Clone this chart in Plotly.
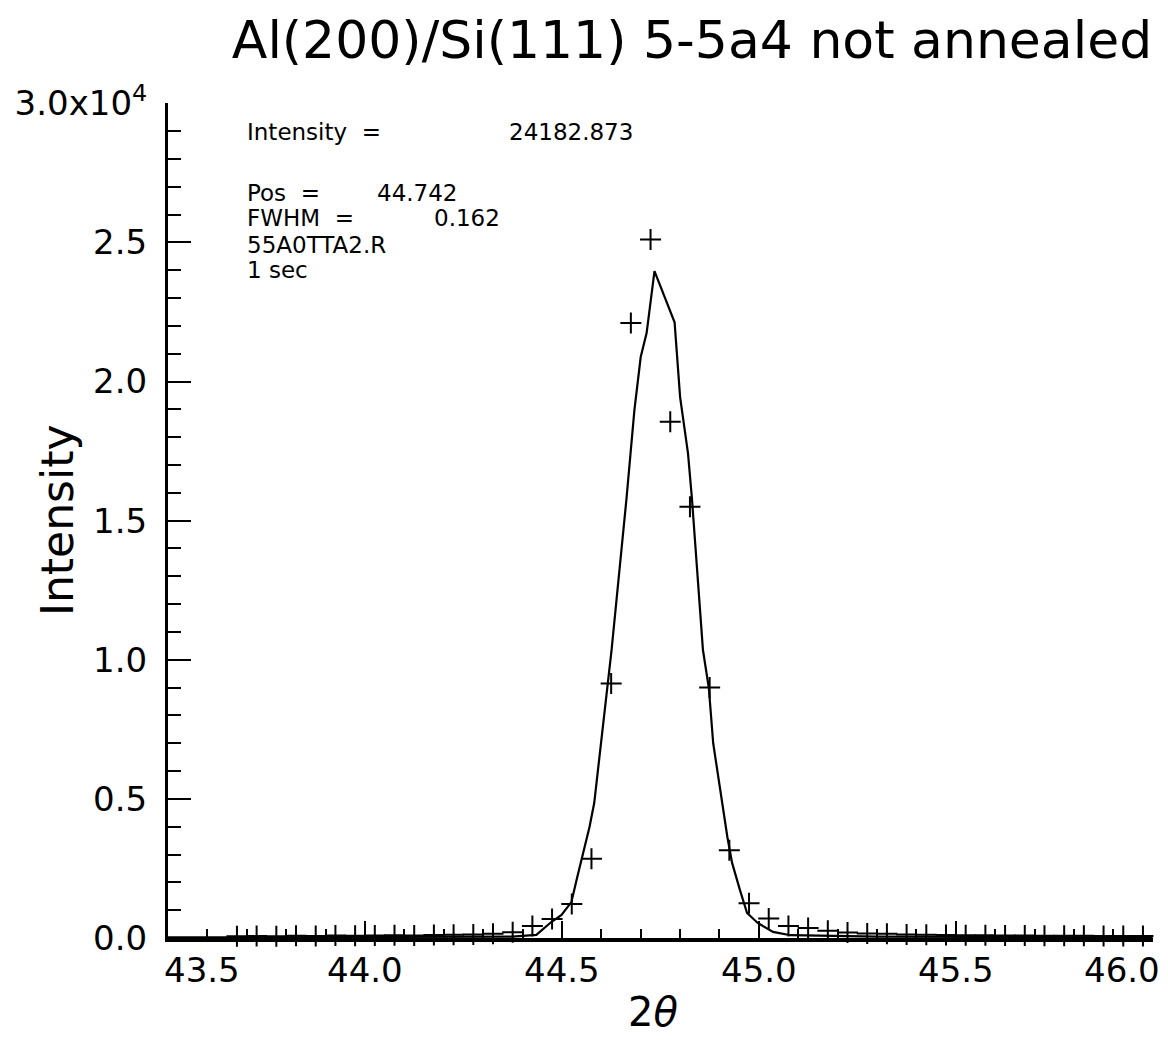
import plotly.graph_objects as go

# ---- data ----
two_theta = [43.675, 43.725, 43.775, 43.825, 43.875, 43.925, 43.975, 44.025, 44.075,
             44.125, 44.175, 44.225, 44.275, 44.325, 44.375, 44.425, 44.475, 44.525,
             44.575, 44.625, 44.675, 44.725, 44.775, 44.825, 44.875, 44.925, 44.975,
             45.025, 45.075, 45.125, 45.175, 45.225, 45.275, 45.325, 45.375, 45.425,
             45.475, 45.525, 45.575, 45.625, 45.675, 45.725, 45.775, 45.825, 45.875,
             45.925, 45.975]
counts = [60, 70, 60, 80, 70, 90, 80, 90, 100, 90, 110, 120, 130, 150, 210, 430, 680, 1220,
          2850, 9150, 22100, 25100, 18550, 15500, 9000, 3150, 1250, 700, 430, 360, 260,
          200, 160, 150, 130, 120, 110, 100, 100, 90, 90, 80, 80, 80, 70, 70, 70]

fit_x = [43.5, 44.30, 44.374, 44.435, 44.473, 44.499, 44.524, 44.539, 44.570, 44.582,
         44.616, 44.626, 44.664, 44.684, 44.700, 44.715, 44.735, 44.786, 44.800, 44.820,
         44.830, 44.858, 44.873, 44.884, 44.920, 44.932, 44.952, 44.970, 44.997, 45.036,
         45.080, 45.300, 46.0]
fit_y = [20, 30, 50, 110, 575, 830, 1290, 2190, 3990, 4850,
         9160, 10350, 15800, 18970, 20880, 21740, 23970, 22130, 19440, 17430,
         15800, 10350, 8980, 7000, 3630, 2700, 1720, 900, 540, 220,
         100, 50, 20]

x_tick_vals = [43.5, 44.0, 44.5, 45.0, 45.5, 46.0]
x_tick_text = ["43.5", "44.0", "44.5", "45.0", "45.5", "46.0"]
y_tick_vals = [0, 5000, 10000, 15000, 20000, 25000, 30000]
y_tick_text = ["0.0", "0.5", "1.0", "1.5", "2.0", "2.5", "3.0x10<sup>4</sup>"]

title_text = "Al(200)/Si(111) 5-5a4 not annealed"
info_labels = ["Intensity  =", "Pos  =", "FWHM  =", "55A0TTA2.R", "1 sec"]
info_values = ["24182.873", "44.742", "0.162", "", ""]

# ---- layout geometry ----
# The page body has an 8px margin, so the figure is drawn 8px in from the top-left.
OFF = 8
W, H = 1152, 1027
PLOT_L, PLOT_R, PLOT_T, PLOT_B = 168, 1153, 103, 938   # wanted window coordinates
L = PLOT_L - OFF
R = W - (PLOT_R - OFF)
T = PLOT_T - OFF
B = H - (PLOT_B - OFF)
PW, PH = PLOT_R - PLOT_L, PLOT_B - PLOT_T
FONT = "DejaVu Sans"

def px_to_paper_x(px):
    return (px - PLOT_L) / PW

def px_to_paper_y(py):
    return (PLOT_B - py) / PH

fig = go.Figure()
fig.add_trace(go.Scatter(x=fit_x, y=fit_y, mode="lines",
                         line=dict(color="black", width=2.2), showlegend=False))
fig.add_trace(go.Scatter(x=two_theta, y=counts, mode="markers",
                         marker=dict(symbol="cross-thin", size=15, color="black",
                                     line=dict(color="black", width=2)),
                         showlegend=False, cliponaxis=False))

annotations = []
# x tick labels
for i, (v, t) in enumerate(zip(x_tick_vals, x_tick_text)):
    if i == 0:
        anchor, shift = "left", -6
    elif i == len(x_tick_vals) - 1:
        anchor, shift = "right", 9
    else:
        anchor, shift = "center", 0
    annotations.append(dict(x=v, xref="x", y=px_to_paper_y(970), yref="paper",
                            text=t, showarrow=False, xanchor=anchor, yanchor="middle",
                            xshift=shift, font=dict(family=FONT, size=34, color="black")))

# info block
info_y = [132, 193, 218, 245, 270]
value_x = [507, 375, 432, None, None]
for lab, val, yy, vx in zip(info_labels, info_values, info_y, value_x):
    annotations.append(dict(x=px_to_paper_x(245), xref="paper", y=px_to_paper_y(yy), yref="paper",
                            text=lab, showarrow=False, xanchor="left", yanchor="middle",
                            font=dict(family=FONT, size=23, color="black")))
    if val:
        annotations.append(dict(x=px_to_paper_x(vx), xref="paper", y=px_to_paper_y(yy), yref="paper",
                                text=val, showarrow=False, xanchor="left", yanchor="middle",
                                font=dict(family=FONT, size=23, color="black")))

# axis titles
annotations.append(dict(x=px_to_paper_x(653), xref="paper", y=px_to_paper_y(1012), yref="paper",
                        text="2<i>θ</i>", showarrow=False, xanchor="center", yanchor="middle",
                        font=dict(family=FONT, size=40, color="black")))
annotations.append(dict(x=px_to_paper_x(57), xref="paper", y=px_to_paper_y(520), yref="paper",
                        text="Intensity", showarrow=False, xanchor="center", yanchor="middle",
                        textangle=-90, font=dict(family=FONT, size=44, color="black")))

fig.update_layout(
    width=W, height=H, autosize=False,
    margin=dict(l=L, r=R, t=T, b=B, pad=0, autoexpand=False),
    paper_bgcolor="white", plot_bgcolor="white",
    font=dict(family=FONT, color="black"),
    title=dict(text=title_text, x=(692 - OFF) / W, xanchor="center",
               y=1 - (40 - OFF) / H, yanchor="middle",
               xref="container", yref="container",
               font=dict(family=FONT, size=52, color="black")),
    annotations=annotations,
    xaxis=dict(range=[43.5, 46.0005], showgrid=False, zeroline=False, automargin=False,
               showline=True, linecolor="black", linewidth=3.5,
               ticks="inside", tickvals=x_tick_vals, ticklen=17, tickwidth=2, tickcolor="black",
               showticklabels=False,
               minor=dict(dtick=0.1, tick0=43.5, ticks="inside", ticklen=9, tickwidth=2,
                          tickcolor="black", showgrid=False)),
    yaxis=dict(range=[0, 30010], showgrid=False, zeroline=False, automargin=False,
               showline=True, linecolor="black", linewidth=3,
               ticks="inside", tickvals=y_tick_vals, ticktext=y_tick_text,
               ticklen=23, tickwidth=2, tickcolor="black",
               tickfont=dict(family=FONT, size=34, color="black"),
               ticklabelstandoff=11,
               minor=dict(dtick=1000, tick0=0, ticks="inside", ticklen=13, tickwidth=2,
                          tickcolor="black", showgrid=False)),
)

fig.write_html("out.html")
